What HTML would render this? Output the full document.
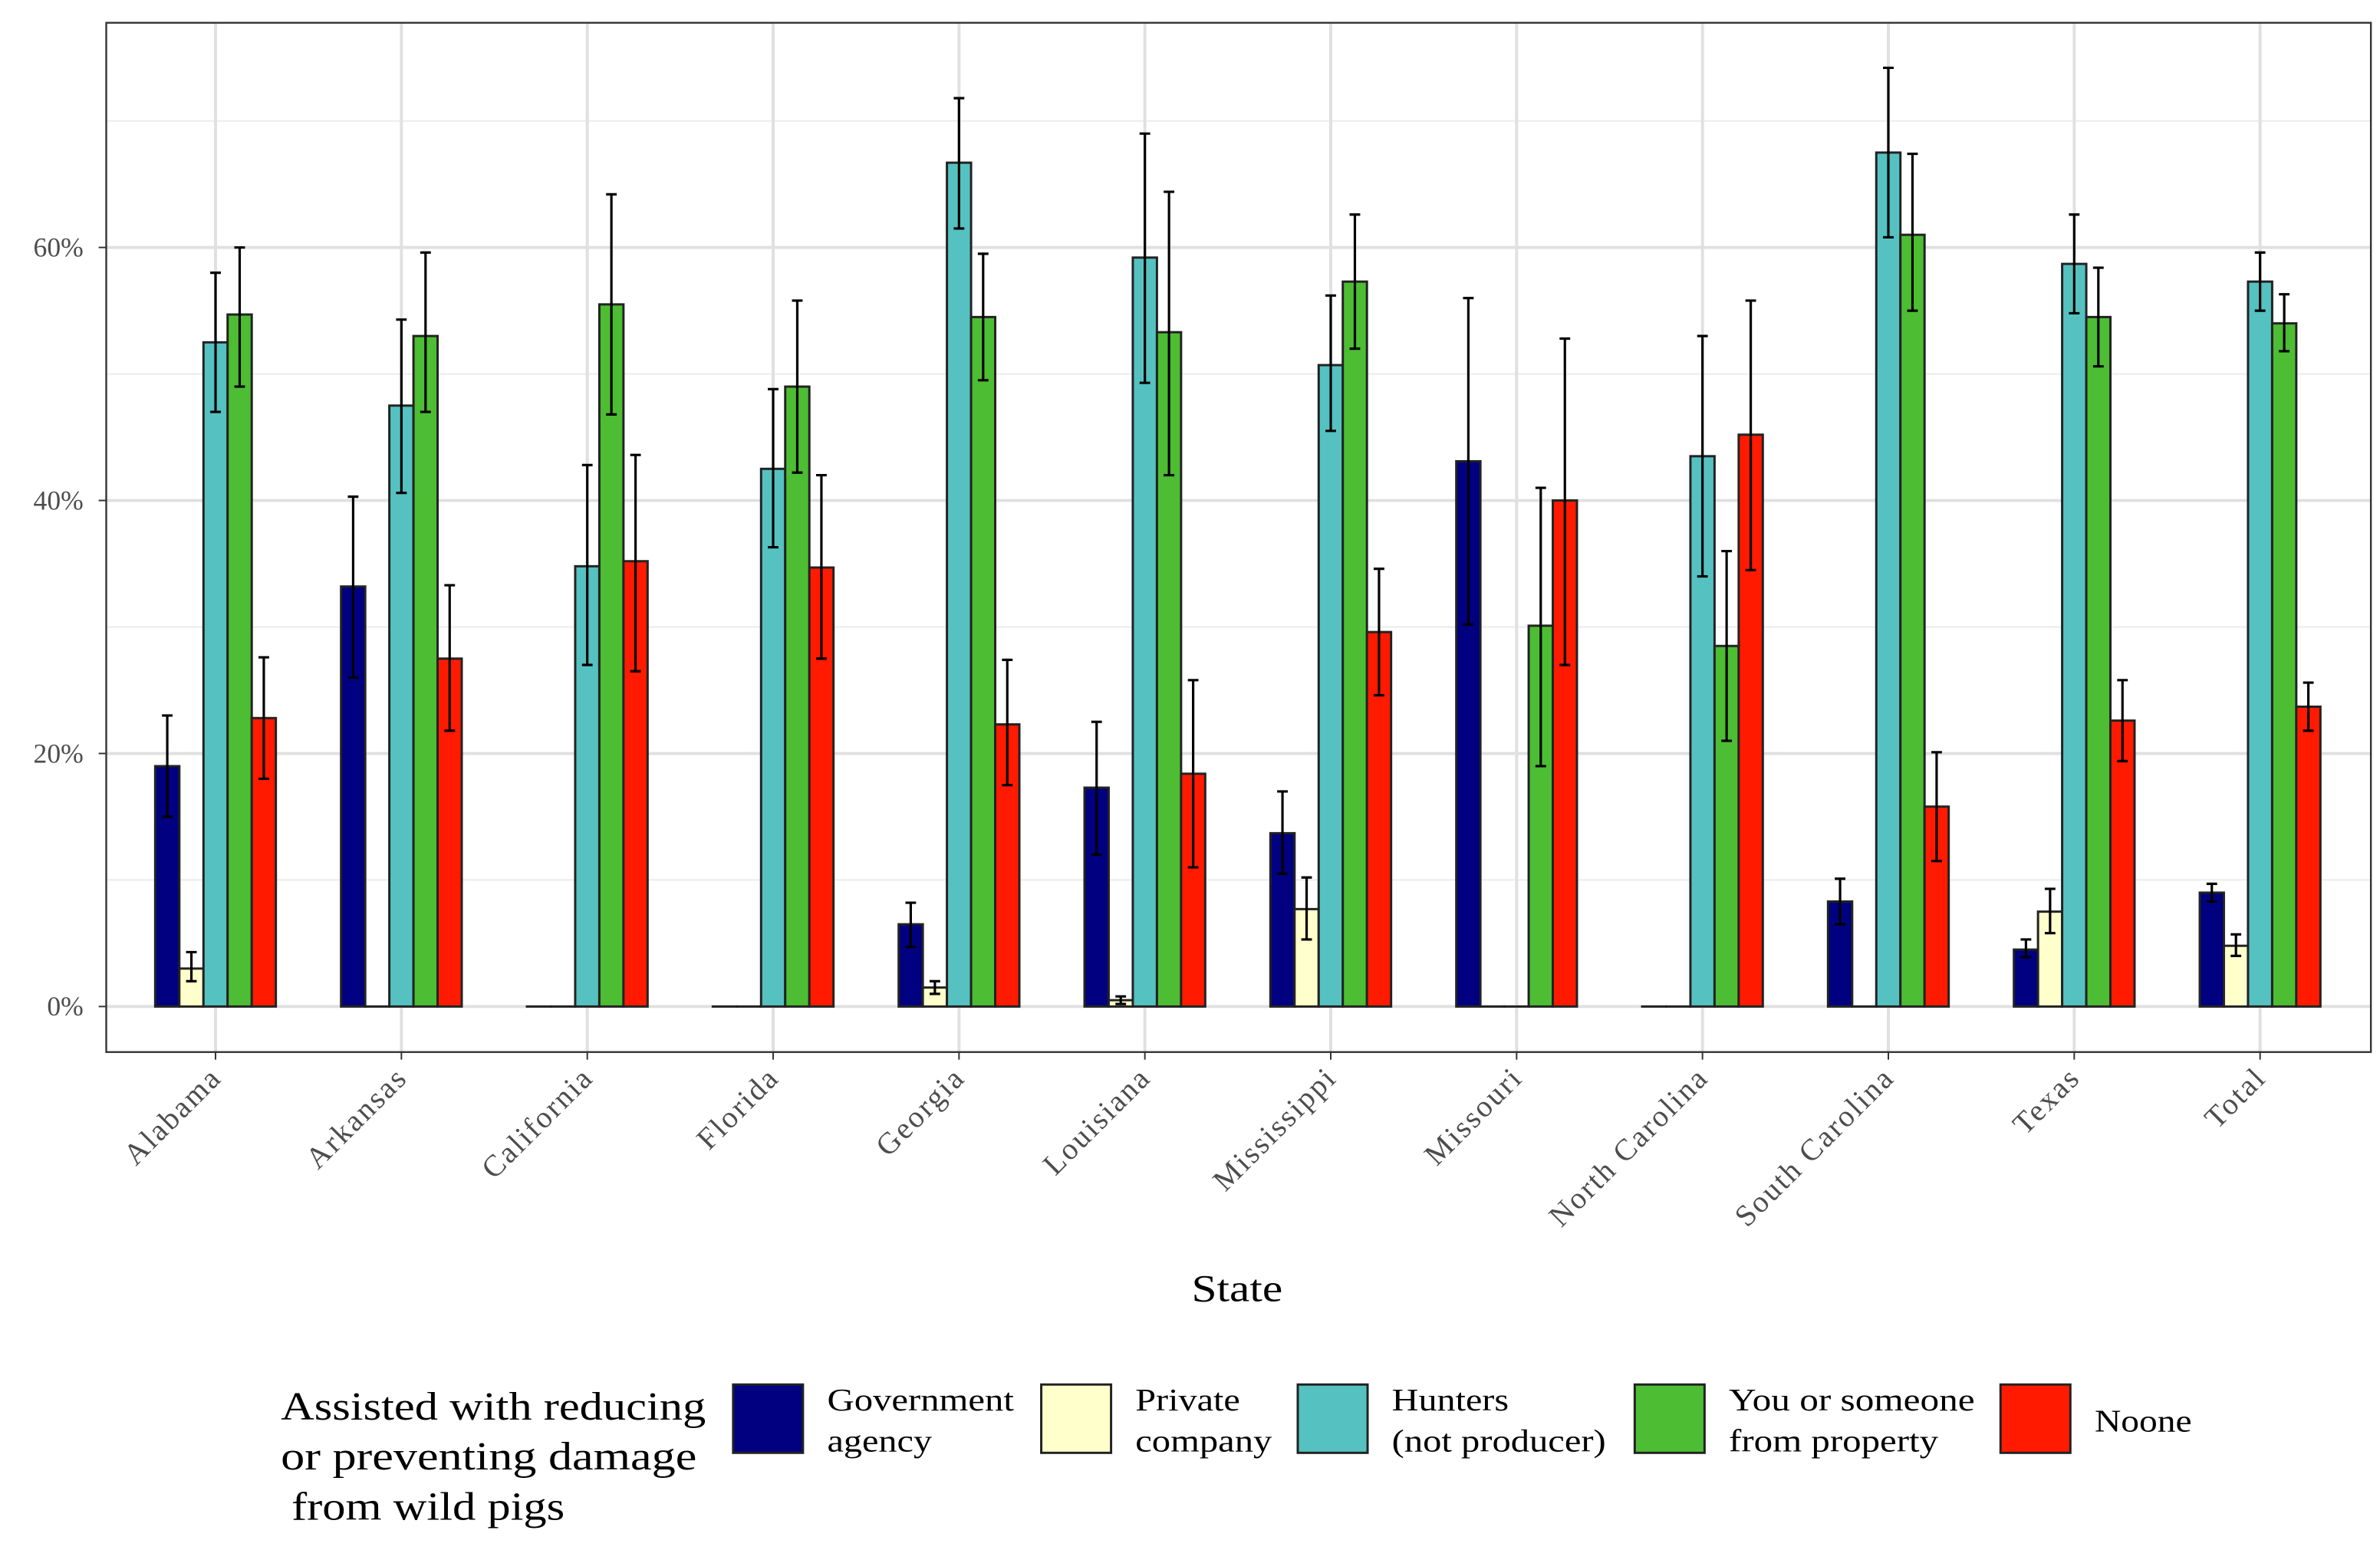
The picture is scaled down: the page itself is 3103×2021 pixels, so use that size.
<!DOCTYPE html>
<html><head><meta charset="utf-8">
<style>
html,body{margin:0;padding:0;background:#fff;}
svg{display:block;font-family:"Liberation Serif",serif;}
</style></head>
<body>
<svg id="chart" width="3103" height="2021" viewBox="0 0 1568 1021" preserveAspectRatio="none" xmlns="http://www.w3.org/2000/svg">
<rect x="0" y="0" width="1568" height="1021" fill="#fff"/>
<g id="grid"></g>
<g id="bars"></g>
<rect x="70" y="15" width="1492" height="678" fill="none" stroke="#333" stroke-width="1.2"/>
<g id="axes"></g>
<text x="815" y="857" font-size="25" text-anchor="middle" fill="#000" textLength="60" lengthAdjust="spacingAndGlyphs">State</text>
<g id="legend">
<text font-size="26" fill="#000">
<tspan x="185" y="935" textLength="280" lengthAdjust="spacingAndGlyphs">Assisted with reducing</tspan>
<tspan x="185" y="968" textLength="274" lengthAdjust="spacingAndGlyphs">or preventing damage</tspan>
<tspan x="192" y="1001" textLength="180" lengthAdjust="spacingAndGlyphs">from wild pigs</tspan>
</text>
</g>
</svg>
<script>
const categories=["Alabama","Arkansas","California","Florida","Georgia","Louisiana","Mississippi","Missouri","North Carolina","South Carolina","Texas","Total"];
const seriesNames=["Government agency","Private company","Hunters (not producer)","You or someone from property","Noone"];
const govValues=[19,33.2,0,0,6.5,17.3,13.7,43.1,0,8.3,4.5,9];
const govLow=[15,26,0,0,4.7,12,10.5,30.2,0,6.5,3.9,8.3];
const govHigh=[23,40.3,0,0,8.2,22.5,17,56,0,10.1,5.3,9.7];
const privValues=[3,0,0,0,1.5,0.5,7.7,0,0,0,7.5,4.8];
const privLow=[2,0,0,0,1,0.2,5.3,0,0,0,5.8,4];
const privHigh=[4.3,0,0,0,2,0.8,10.2,0,0,0,9.3,5.7];
const huntValues=[52.5,47.5,34.8,42.5,66.7,59.2,50.7,0,43.5,67.5,58.7,57.3];
const huntLow=[47,40.6,27,36.3,61.5,49.3,45.5,0,34,60.8,54.8,55];
const huntHigh=[58,54.3,42.8,48.8,71.8,69,56.2,0,53,74.2,62.6,59.6];
const youValues=[54.7,53,55.5,49,54.5,53.3,57.3,30.1,28.5,61,54.5,54];
const youLow=[49,47,46.8,42.2,49.5,42,52,19,21,55,50.6,51.8];
const youHigh=[60,59.6,64.2,55.8,59.5,64.4,62.6,41,36,67.4,58.4,56.3];
const nooneValues=[22.8,27.5,35.2,34.7,22.3,18.4,29.6,40,45.2,15.8,22.6,23.7];
const nooneLow=[18,21.8,26.5,27.5,17.5,11,24.6,27,34.5,11.5,19.4,21.8];
const nooneHigh=[27.6,33.3,43.6,42,27.4,25.8,34.6,52.8,55.8,20.1,25.8,25.6];
const yTicks=[0,20,40,60];
const yMinor=[10,30,50,70];
const colors=["#000080","#FFFFCC","#56C1C1","#4DBD33","#FF1A00"];
const series=[[govValues,govLow,govHigh],[privValues,privLow,privHigh],[huntValues,huntLow,huntHigh],[youValues,youLow,youHigh],[nooneValues,nooneLow,nooneHigh]];
const NS="http://www.w3.org/2000/svg";
function yScale(v){return 663-v*(500/60);}
function xScale(i){return 142+i*((1489-142)/11);}
function mk(tag,attrs,parent){const e=document.createElementNS(NS,tag);for(const k in attrs)e.setAttribute(k,attrs[k]);parent.appendChild(e);return e;}
const grid=document.getElementById('grid'),bars=document.getElementById('bars'),axes=document.getElementById('axes'),legend=document.getElementById('legend');
yMinor.forEach(v=>{const l=mk('line',{x1:70,x2:1562,y1:yScale(v),y2:yScale(v),stroke:'#ebebeb','stroke-width':1},grid);

});
yTicks.forEach(v=>{const l=mk('line',{x1:70,x2:1562,y1:yScale(v),y2:yScale(v),stroke:'#e0e0e0','stroke-width':2},grid);


const t=mk('text',{x:55,y:yScale(v)+6,'font-size':18,'text-anchor':'end',fill:'#4d4d4d'},axes);t.textContent=v+'%';


const tk=mk('line',{x1:65,x2:70,y1:yScale(v),y2:yScale(v),stroke:'#333','stroke-width':1},axes);

});
const bw=15.9;
categories.forEach((c,i)=>{const cx=xScale(i);
const g=mk('line',{x1:cx,x2:cx,y1:15,y2:693,stroke:'#e0e0e0','stroke-width':2},grid);


const tk=mk('line',{x1:cx,x2:cx,y1:693,y2:698,stroke:'#333','stroke-width':1},axes);


const t=mk('text',{x:cx+5,y:711,'font-size':20,'letter-spacing':1.3,'text-anchor':'end',fill:'#4d4d4d',transform:`rotate(-45 ${cx+5} 711)`},axes);t.textContent=c;


series.forEach((s,j)=>{const x0=cx-2.5*bw+j*bw;const v=s[0][i];
const r=mk('rect',{x:x0,y:yScale(v),width:bw,height:Math.max(0.01,yScale(0)-yScale(v)),fill:colors[j],stroke:'#222','stroke-width':1.5},bars);


if(s[2][i]>0){const mx=x0+bw/2,y1=yScale(s[1][i]),y2=yScale(s[2][i]);
const e=mk('path',{d:`M${mx-3.5},${y1}H${mx+3.5}M${mx},${y1}V${y2}M${mx-3.5},${y2}H${mx+3.5}`,stroke:'#000','stroke-width':1.6,fill:'none'},bars);

}
});});
const keyX=[483,686,855,1077,1318];
const labLines=[["Government","agency"],["Private","company"],["Hunters","(not producer)"],["You or someone","from property"],["Noone"]];
const labLens=[[123,69],[69,90],[77,141],[162,138],[64]];
keyX.forEach((x,j)=>{const r=mk('rect',{x:x,y:912,width:46,height:45,fill:colors[j],stroke:'#222','stroke-width':1.5},legend);


const t=mk('text',{'font-size':21,fill:'#000'},legend);


const ls=labLines[j];
if(ls.length===1){mk('tspan',{x:x+62,y:943,textLength:labLens[j][0],lengthAdjust:'spacingAndGlyphs'},t).textContent=ls[0];}
else{mk('tspan',{x:x+62,y:929,textLength:labLens[j][0],lengthAdjust:'spacingAndGlyphs'},t).textContent=ls[0];mk('tspan',{x:x+62,y:956,textLength:labLens[j][1],lengthAdjust:'spacingAndGlyphs'},t).textContent=ls[1];}
});
</script>
</body></html>
